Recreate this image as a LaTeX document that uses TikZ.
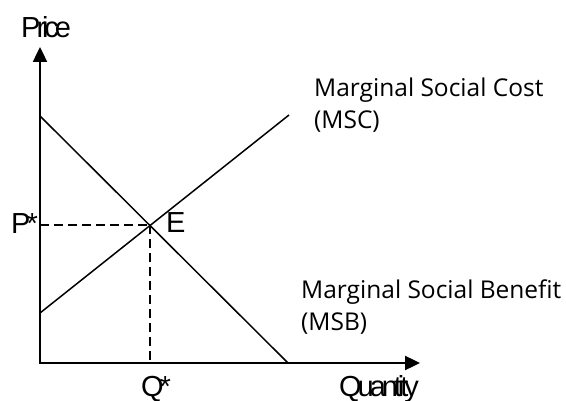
\documentclass[tikz,border=0pt]{standalone}
\usepackage{fontspec}
\setmainfont{Open Sans}
\newfontfamily\axfont[LetterSpace=-14]{Liberation Sans}
\usetikzlibrary{arrows.meta}
\begin{document}
\begin{tikzpicture}[x=1pt,y=-1pt,
  axis/.style={line width=2.4pt,{Triangle[length=15pt,width=14pt]}-{Triangle[length=15pt,width=14pt]}},
  curve/.style={line width=1.5pt},
  guide/.style={line width=1.3pt,dash pattern=on 9pt off 5pt},
  axlab/.style={font=\axfont\fontsize{29}{29}\selectfont,inner sep=0pt,anchor=base west},
  curvelab/.style={font=\fontsize{24.5}{32}\selectfont,inner sep=0pt,anchor=base west}]
\useasboundingbox (0,0) rectangle (566,401);
\coordinate (O) at (40,363);
\coordinate (Ytop) at (40,47);
\coordinate (Xend) at (420,363);
\coordinate (E) at (150,225);
\coordinate (msbA) at (40,116);
\coordinate (msbB) at (288,363);
\coordinate (mscA) at (40,313);
\coordinate (mscB) at (289,115);
\coordinate (Py) at (40,225);
\coordinate (Qx) at (150,363);
% guides
\draw[guide] (Py) -- (E);
\draw[guide] (E) -- (Qx);
% curves
\draw[curve] (msbA) -- (msbB);
\draw[curve] (mscA) -- (mscB);
% axes
\draw[axis] (Ytop) -- (O) -- (Xend);
% labels
\node[axlab] (price) at (21,38) {Price};
\node[axlab] (quantity) at (339,396) {Quantity};
\node[axlab] (pstar) at (11,234) {P*};
\node[axlab] (elab) at (166,233) {E};
\node[axlab] (qstar) at (141,396) {Q*};
\node[curvelab] (msc1) at (314,97) {Marginal Social Cost};
\node[curvelab] (msc2) at (314,129) {(MSC)};
\node[curvelab] (msb1) at (301,299) {Marginal Social Benefit};
\node[curvelab] (msb2) at (301,331) {(MSB)};
\end{tikzpicture}
\end{document}
